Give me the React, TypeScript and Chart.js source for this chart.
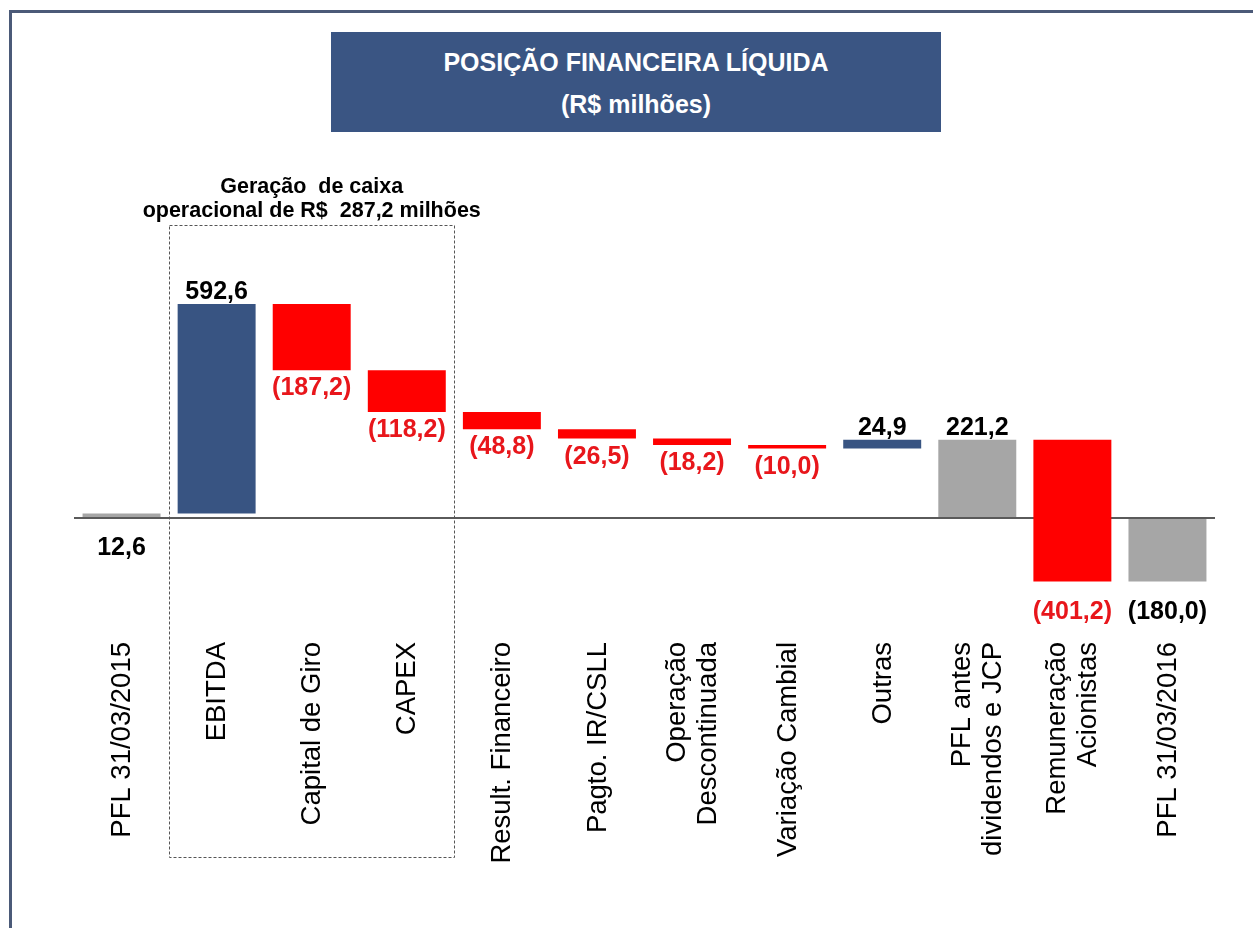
import React, { useEffect, useRef } from "react";
import { Chart, registerables } from "chart.js";

Chart.register(...registerables);

const FONT = "'Liberation Sans', Arial, Helvetica, sans-serif";

// ---- data ----
const categories: string[][] = [
  ["PFL 31/03/2015"],
  ["EBITDA"],
  ["Capital de Giro"],
  ["CAPEX"],
  ["Result. Financeiro"],
  ["Pagto. IR/CSLL"],
  ["Operação", "Descontinuada"],
  ["Variação Cambial"],
  ["Outras"],
  ["PFL antes", "dividendos e JCP"],
  ["Remuneração", "Acionistas"],
  ["PFL 31/03/2016"],
];

const values: number[] = [12.6, 592.6, -187.2, -118.2, -48.8, -26.5, -18.2, -10.0, 24.9, 221.2, -401.2, -180.0];

// "total" bars start at zero, "delta" bars float on the running total
const kinds: string[] = ["total", "delta", "delta", "delta", "delta", "delta", "delta", "delta", "delta", "total", "delta", "total"];

// where the value label sits relative to its bar
const labelSide: string[] = ["below", "above", "below", "below", "below", "below", "below", "below", "above", "above", "below", "below"];

const groupTitle: string[] = ["Geração  de caixa", "operacional de R$  287,2 milhões"];

const COLORS = {
  total: "#a6a6a6",
  up: "#385482",
  down: "#ff0000",
};

function buildRanges(): [number, number][] {
  const out: [number, number][] = [];
  let running = 0;
  values.forEach((v, i) => {
    if (kinds[i] === "total") {
      out.push([0, v]);
      running = v;
    } else {
      out.push([running, running + v]);
      running = running + v;
    }
  });
  return out;
}

function fmt(v: number): string {
  const s = Math.abs(v).toFixed(1).replace(".", ",");
  return v < 0 ? `(${s})` : s;
}

const annotatePlugin = {
  id: "annotate",
  afterDatasetsDraw(chart: any) {
    const ctx = chart.ctx as CanvasRenderingContext2D;
    const xs = chart.scales.x;
    const ys = chart.scales.y;
    const meta = chart.getDatasetMeta(0);
    const ranges = chart.data.datasets[0].data as [number, number][];

    ctx.save();
    // value labels
    ctx.font = `bold 25px ${FONT}`;
    ctx.textAlign = "center";
    ctx.textBaseline = "alphabetic";
    meta.data.forEach((bar: any, i: number) => {
      const [a, b] = ranges[i];
      const lo = Math.min(a, b);
      const hi = Math.max(a, b);
      const v = values[i];
      ctx.fillStyle = kinds[i] === "delta" && v < 0 ? "#e8161b" : "#000000";
      let y: number;
      if (labelSide[i] === "above") {
        y = ys.getPixelForValue(hi) - 5;
      } else {
        y = ys.getPixelForValue(lo) + (lo <= 0 ? 37 : 25);
      }
      ctx.fillText(fmt(v), bar.x, y);
    });

    // category labels, rotated, hanging from a common top line
    ctx.fillStyle = "#000000";
    ctx.font = `27.5px ${FONT}`;
    ctx.textAlign = "right";
    ctx.textBaseline = "middle";
    const labelTop = xs.top + 42;
    const lineH = 31;
    categories.forEach((lines, i) => {
      const px = xs.getPixelForValue(i);
      lines.forEach((ln, j) => {
        const off = (j - (lines.length - 1) / 2) * lineH;
        ctx.save();
        ctx.translate(px + off + 1, labelTop);
        ctx.rotate(-Math.PI / 2);
        ctx.fillText(ln, 0, 0);
        ctx.restore();
      });
    });

    // dashed group box around EBITDA / Capital de Giro / CAPEX
    const step = xs.getPixelForValue(1) - xs.getPixelForValue(0);
    const left = xs.getPixelForValue(1) - step / 2;
    const right = xs.getPixelForValue(3) + step / 2;
    ctx.strokeStyle = "#555555";
    ctx.lineWidth = 1;
    ctx.setLineDash([3, 2]);
    ctx.strokeRect(Math.round(left) + 0.5, 225.5, Math.round(right - left), 632);
    ctx.setLineDash([]);

    ctx.fillStyle = "#000000";
    ctx.font = `bold 21.5px ${FONT}`;
    ctx.textAlign = "center";
    ctx.textBaseline = "middle";
    const cx = (left + right) / 2;
    ctx.fillText(groupTitle[0], cx, 187);
    ctx.fillText(groupTitle[1], cx, 211);
    ctx.restore();
  },
};

export default function App() {
  const canvasRef = useRef<HTMLCanvasElement | null>(null);

  useEffect(() => {
    const canvas = canvasRef.current;
    if (!canvas) return;
    const ranges = buildRanges();
    const colors = values.map((v, i) =>
      kinds[i] === "total" ? COLORS.total : v >= 0 ? COLORS.up : COLORS.down
    );
    const chart = new Chart(canvas, {
      type: "bar",
      data: {
        labels: categories,
        datasets: [
          {
            data: ranges as any,
            backgroundColor: colors,
            borderWidth: 0,
            borderSkipped: false,
            categoryPercentage: 1,
            barPercentage: 0.82,
          },
        ],
      },
      options: {
        responsive: false,
        animation: false,
        devicePixelRatio: 1,
        layout: { padding: { top: 150, left: 74, right: 38, bottom: 28 } },
        plugins: {
          legend: { display: false },
          tooltip: { enabled: false },
        },
        scales: {
          x: {
            grid: { display: false, drawTicks: false },
            border: { display: false },
            ticks: { display: false, autoSkip: false },
            afterFit: (s: any) => {
              s.height = 300;
            },
          },
          y: {
            min: -232,
            max: 1040.7,
            ticks: { display: false },
            border: { display: false },
            grid: {
              drawTicks: false,
              lineWidth: 2,
              color: (c: any) => (c.tick && c.tick.value === 0 ? "#5a5a5a" : "rgba(0,0,0,0)"),
            },
            afterFit: (s: any) => {
              s.width = 0;
            },
          },
        },
      },
      plugins: [annotatePlugin],
    });
    return () => chart.destroy();
  }, []);

  return (
    <div
      style={{
        position: "absolute",
        left: 0,
        top: 0,
        width: 1253,
        height: 928,
        background: "#ffffff",
        overflow: "hidden",
        fontFamily: FONT,
      }}
    >
      <div
        style={{
          position: "absolute",
          left: 9,
          top: 10,
          width: 1300,
          height: 1000,
          borderTop: "3px solid #4b5a78",
          borderLeft: "3px solid #4b5a78",
        }}
      />
      <canvas ref={canvasRef} width={1253} height={928} style={{ position: "absolute", left: 0, top: 0 }} />
      <div
        style={{
          position: "absolute",
          left: 331,
          top: 32,
          width: 610,
          height: 100,
          background: "#3a5583",
          color: "#ffffff",
          fontWeight: "bold",
          fontSize: 25,
          textAlign: "center",
        }}
      >
        <div style={{ position: "absolute", left: 0, right: 0, top: 16, lineHeight: "28px" }}>
          POSIÇÃO FINANCEIRA LÍQUIDA
        </div>
        <div style={{ position: "absolute", left: 0, right: 0, top: 58, lineHeight: "28px" }}>
          (R$ milhões)
        </div>
      </div>
    </div>
  );
}
